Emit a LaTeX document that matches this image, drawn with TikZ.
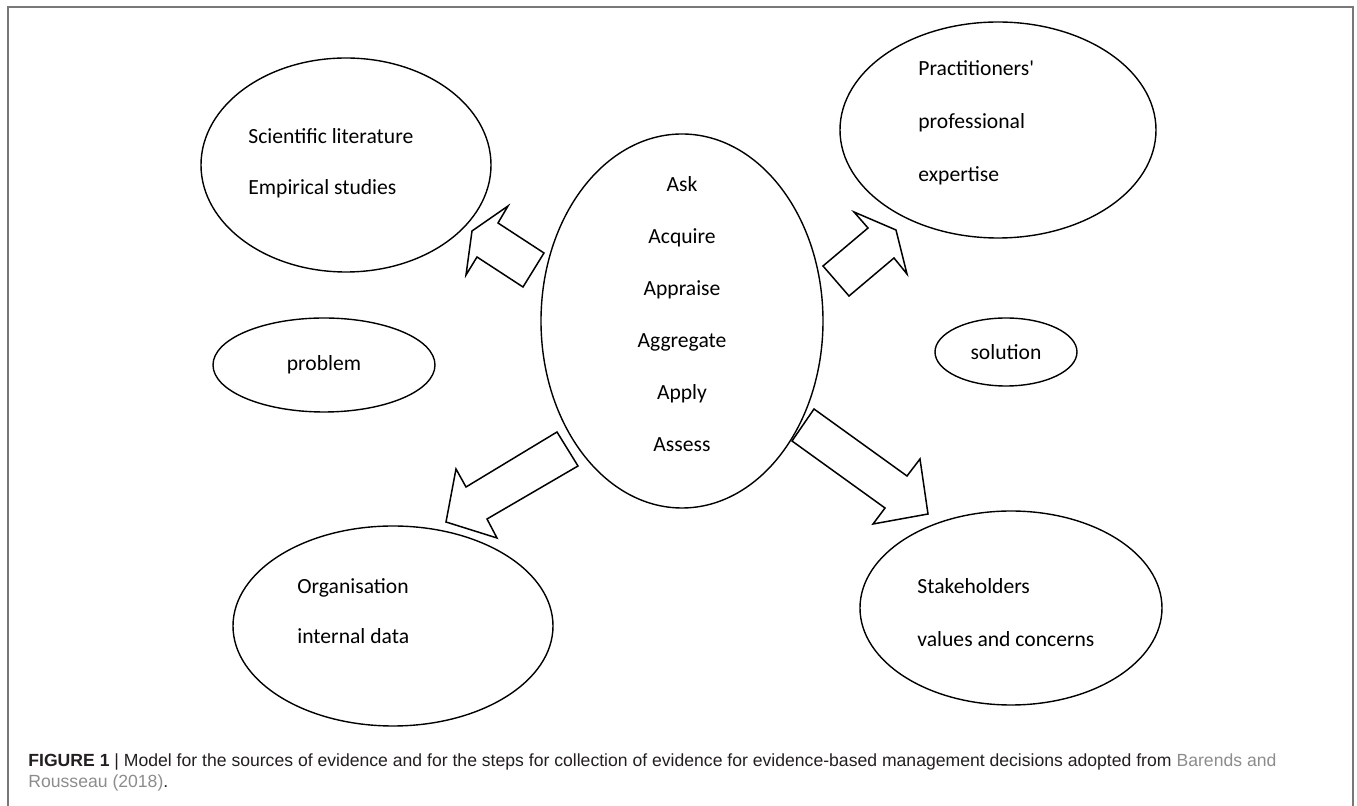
\documentclass[tikz,border=0pt]{standalone}
\usepackage{fontspec}
\setmainfont{Carlito}
\newfontfamily\capfont{Liberation Sans}
\usetikzlibrary{shapes.geometric}
\definecolor{framegray}{RGB}{120,120,120}
\definecolor{captext}{RGB}{35,31,32}
\definecolor{citegray}{RGB}{140,140,140}

\begin{document}
\begin{tikzpicture}[x=0.5pt, y=-0.5pt,
  oval/.style={ellipse, draw, line width=0.7pt, inner sep=0pt,
               font=\fontsize{10.8}{13}\selectfont},
  txt/.style={font=\fontsize{10.8}{13}\selectfont, inner sep=0pt, anchor=base west},
  ctxt/.style={font=\fontsize{10.8}{13}\selectfont, inner sep=0pt, anchor=base},
  blockarr/.style={draw, line width=0.75pt, line join=miter},
  captxt/.style={font=\capfont\fontsize{8.8}{10.5}\selectfont, color=captext,
                 inner sep=0pt, anchor=base west}
]
  \useasboundingbox (0,0) rectangle (1357,806);
  \draw[framegray, line width=1pt] (8,806) -- (8,7) -- (1353,7) -- (1353,806);

  % sources of evidence
  \node[oval, minimum width=145pt, minimum height=107pt] (lit) at (346,165) {};
  \node[oval, minimum width=158pt, minimum height=108pt] (expert) at (998,130) {};
  \node[oval, minimum width=160pt, minimum height=100pt] (orgdata) at (393,626) {};
  \node[oval, minimum width=151pt, minimum height=97pt] (stake) at (1011,608) {};
  \node[oval, minimum width=111pt, minimum height=47pt] (problem) at (324,365) {problem};
  \node[oval, minimum width=71pt, minimum height=34pt] (solution) at (1006,352) {solution};
  \node[oval, minimum width=141pt, minimum height=187pt] (steps) at (682,321) {};

  \node[txt] (lit1) at (248,144) {Scientific literature};
  \node[txt] (lit2) at (248,195) {Empirical studies};
  \node[txt] (exp1) at (918,76) {Practitioners\textquotesingle};
  \node[txt] (exp2) at (918,129) {professional};
  \node[txt] (exp3) at (918,182) {expertise};
  \node[txt] (org1) at (297,594) {Organisation};
  \node[txt] (org2) at (297,644) {internal data};
  \node[txt] (stk1) at (917,594) {Stakeholders};
  \node[txt] (stk2) at (917,647) {values and concerns};

  % the six steps
  \foreach \w [count=\i] in {Ask,Acquire,Appraise,Aggregate,Apply,Assess}
    \node[ctxt] (step\i) at (682,{140+52*\i}) {\w};

  % block arrows
  \draw[blockarr] (544,253) -- (498,223) -- (508,206) -- (472,231) -- (466,275)
    -- (477,257) -- (523,287) -- cycle;
  \draw[blockarr] (823,266) -- (868,228) -- (854,212) -- (896,230) -- (907,274)
    -- (894,258) -- (849,296) -- cycle;
  \draw[blockarr] (557,432) -- (578,466) -- (487,519) -- (497,538) -- (446,522)
    -- (456,469) -- (466,487) -- cycle;
  \draw[blockarr] (814,409) -- (907,476) -- (920,459) -- (928,514) -- (873,524)
    -- (885,508) -- (792,441) -- cycle;

  % caption
  \node[captxt] (cap1) at (28,767) {\textbf{FIGURE 1} | Model for the sources of evidence and for the steps for collection of evidence for evidence-based management decisions adopted from \textcolor{citegray}{Barends and}};
  \node[captxt] (cap2) at (28,788) {\textcolor{citegray}{Rousseau (2018)}.};
\end{tikzpicture}
\end{document}
